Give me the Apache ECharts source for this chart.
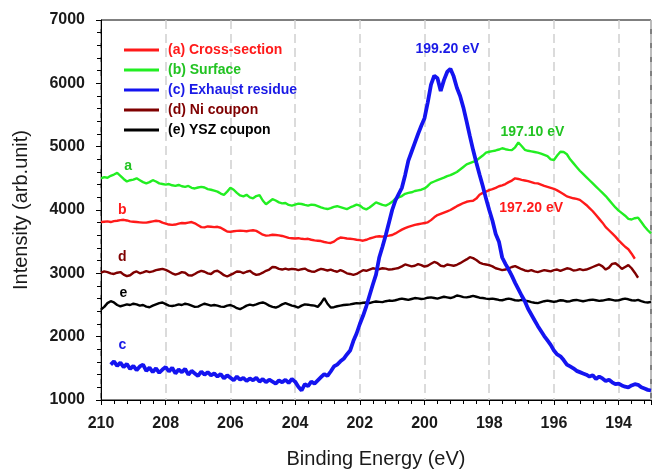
<!DOCTYPE html>
<html>
<head>
<meta charset="utf-8">
<script src="https://cdn.jsdelivr.net/npm/echarts@6/dist/echarts.min.js"></script>
<style>
  html, body { margin: 0; padding: 0; background: #fff; }
  #chart { width: 652px; height: 474px; }
</style>
</head>
<body>
<div id="chart"></div>
<script>
// Binding energy grid (eV), 0.1 eV step, high to low
const energy = [
  210.0,209.9,209.8,209.7,209.6,209.5,209.4,209.3,209.2,209.1,
  209.0,208.9,208.8,208.7,208.6,208.5,208.4,208.3,208.2,208.1,
  208.0,207.9,207.8,207.7,207.6,207.5,207.4,207.3,207.2,207.1,
  207.0,206.9,206.8,206.7,206.6,206.5,206.4,206.3,206.2,206.1,
  206.0,205.9,205.8,205.7,205.6,205.5,205.4,205.3,205.2,205.1,
  205.0,204.9,204.8,204.7,204.6,204.5,204.4,204.3,204.2,204.1,
  204.0,203.9,203.8,203.7,203.6,203.5,203.4,203.3,203.2,203.1,
  203.0,202.9,202.8,202.7,202.6,202.5,202.4,202.3,202.2,202.1,
  202.0,201.9,201.8,201.7,201.6,201.5,201.4,201.3,201.2,201.1,
  201.0,200.9,200.8,200.7,200.6,200.5,200.4,200.3,200.2,200.1,
  200.0,199.9,199.8,199.7,199.6,199.5,199.4,199.3,199.2,199.1,
  199.0,198.9,198.8,198.7,198.6,198.5,198.4,198.3,198.2,198.1,
  198.0,197.9,197.8,197.7,197.6,197.5,197.4,197.3,197.2,197.1,
  197.0,196.9,196.8,196.7,196.6,196.5,196.4,196.3,196.2,196.1,
  196.0,195.9,195.8,195.7,195.6,195.5,195.4,195.3,195.2,195.1,
  195.0,194.9,194.8,194.7,194.6,194.5,194.4,194.3,194.2,194.1,
  194.0,193.9,193.8,193.7,193.6,193.5,193.4,193.3,193.2,193.1,
  193.0
];

// (a) Cross-section
const crossSection = [
  3810,3815,3820,3810,3825,3830,3840,3845,3835,3820,
  3815,3810,3805,3800,3800,3810,3820,3830,3825,3800,
  3785,3770,3765,3770,3785,3795,3790,3800,3810,3790,
  3760,3730,3725,3740,3735,3730,3735,3720,3690,3660,
  3655,3665,3670,3675,3670,3665,3675,3680,3670,3640,
  3610,3595,3600,3610,3605,3600,3590,3575,3560,3555,
  3550,3555,3545,3540,3545,3530,3520,3515,3510,3495,
  3485,3480,3500,3540,3565,3560,3550,3545,3540,3530,
  3525,3515,3530,3550,3565,3580,3585,3580,3590,3595,
  3605,3630,3660,3690,3715,3735,3750,3765,3775,3785,
  3795,3805,3840,3885,3920,3940,3960,3980,4000,4030,
  4060,4085,4110,4130,4140,4145,4180,4240,4270,4290,
  4315,4330,4350,4375,4390,4410,4440,4465,4500,4490,
  4475,4465,4455,4440,4425,4420,4400,4380,4365,4350,
  4335,4310,4280,4250,4215,4200,4185,4175,4160,4120,
  4080,4030,3980,3920,3860,3800,3730,3680,3630,3580,
  3520,3470,3420,3380,3310,3230,null,null,null,null,
  null
];

// (b) Surface
const surface = [
  4500,4520,4510,4540,4560,4585,4540,4490,4450,4470,
  4480,4500,4470,4440,4420,4440,4470,4450,4420,4410,
  4400,4410,4390,4380,4395,4375,4365,4380,4350,4340,
  4355,4365,4355,4330,4320,4305,4290,4260,4240,4290,
  4350,4320,4270,4230,4215,4240,4200,4185,4220,4235,
  4150,4090,4130,4170,4150,4120,4105,4110,4080,4070,
  4085,4100,4095,4080,4070,4085,4080,4060,4040,4025,
  4015,4030,4050,4060,4045,4030,4015,4040,4060,4085,
  4070,4030,4010,4040,4080,4120,4100,4080,4070,4095,
  4130,4180,4200,4220,4255,4270,4280,4300,4310,4320,
  4340,4380,4430,4450,4470,4490,4510,4535,4550,4575,
  4600,4640,4680,4720,4740,4760,4780,4820,4860,4905,
  4920,4930,4940,4955,4975,4960,4950,4945,4990,5065,
  5010,4950,4935,4925,4915,4905,4890,4870,4850,4800,
  4790,4860,4920,4915,4880,4800,4740,4680,4620,4570,
  4520,4470,4420,4370,4320,4270,4220,4160,4100,4040,
  3990,3950,3910,3860,3850,3870,3880,3810,3740,3680,
  3630
];

// (c) Exhaust residue
const exhaustResidue = [
  null,null,null,1560,1610,1540,1590,1520,1570,1490,
  1540,1470,1530,1560,1460,1510,1440,1500,1430,1480,
  1520,1450,1510,1420,1480,1440,1490,1400,1460,1420,
  1380,1450,1400,1440,1390,1420,1370,1410,1340,1390,
  1350,1310,1370,1320,1350,1300,1340,1310,1350,1290,
  1330,1280,1320,1290,1260,1310,1280,1320,1270,1330,
  1290,1210,1150,1250,1220,1290,1260,1310,1360,1410,
  1380,1450,1530,1560,1610,1650,1720,1780,1930,2050,
  2200,2330,2480,2650,2820,2980,3250,3420,3600,3800,
  4000,4150,4250,4350,4550,4780,4920,5060,5200,5330,
  5450,5700,5980,6120,6080,5880,6050,6180,6230,6110,
  5930,5800,5620,5400,5170,4950,4750,4560,4380,4180,
  4000,3830,3620,3500,3250,3150,3060,2960,2850,2750,
  2650,2560,2440,2350,2260,2170,2090,2010,1940,1870,
  1780,1720,1690,1630,1560,1530,1500,1460,1440,1420,
  1400,1370,1390,1330,1370,1340,1300,1320,1280,1250,
  1260,1230,1210,1200,1230,1250,1240,1200,1180,1160,
  1150
];

// (d) Ni coupon
const niCoupon = [
  3010,3030,3020,3000,2990,3010,3020,2980,2955,2970,
  3010,3030,3000,3015,3035,3020,3030,3050,3060,3070,
  3055,3030,3000,2980,2995,3020,3010,2970,2965,2990,
  3020,3040,3025,3000,2990,3030,3040,3010,2970,2950,
  2975,3000,3030,3025,3005,3025,3040,3000,2975,2985,
  3010,3040,3060,3100,3095,3070,3060,3075,3060,3070,
  3065,3050,3065,3075,3045,3030,3025,3050,3070,3060,
  3045,3060,3040,3025,3050,3030,3000,2990,2975,2990,
  3020,3050,3040,3060,3080,3070,3065,3080,3075,3060,
  3065,3075,3085,3110,3140,3125,3110,3120,3145,3130,
  3105,3120,3150,3180,3160,3120,3110,3140,3130,3120,
  3135,3160,3190,3220,3255,3240,3210,3170,3150,3140,
  3130,3110,3080,3065,3050,3060,3080,3100,3115,3090,
  3065,3045,3035,3050,3030,3020,3035,3050,3040,3030,
  3050,3060,3040,3060,3080,3070,3045,3050,3065,3050,
  3060,3080,3100,3120,3140,3110,3060,3090,3150,3160,
  3120,3070,3100,3130,3080,3010,2930,null,null,null,
  null
];

// (e) YSZ coupon
const yszCoupon = [
  2430,2470,2530,2560,2540,2500,2480,2495,2510,2500,
  2520,2510,2490,2500,2475,2465,2490,2510,2530,2540,
  2515,2490,2485,2495,2510,2500,2520,2510,2490,2470,
  2475,2500,2520,2505,2490,2500,2490,2475,2470,2490,
  2500,2480,2450,2435,2460,2490,2505,2495,2510,2530,
  2540,2520,2490,2470,2460,2480,2510,2530,2510,2490,
  2480,2460,2490,2510,2505,2495,2490,2470,2530,2610,
  2520,2460,2465,2480,2490,2500,2505,2510,2520,2530,
  2525,2535,2540,2530,2545,2555,2550,2545,2560,2570,
  2565,2575,2590,2600,2590,2580,2595,2610,2605,2595,
  2600,2615,2620,2610,2600,2615,2630,2620,2610,2625,
  2650,2640,2625,2620,2630,2645,2630,2615,2610,2600,
  2595,2600,2590,2580,2575,2590,2600,2590,2575,2570,
  2580,2570,2560,2545,2535,2530,2545,2560,2570,2560,
  2550,2560,2575,2570,2555,2560,2575,2580,2570,2560,
  2570,2580,2585,2575,2565,2570,2580,2590,2580,2570,
  2575,2590,2600,2590,2575,2570,2580,2560,2545,2540,
  2550
];

const seriesNames = ['(a) Cross-section', '(b) Surface', '(c) Exhaust residue', '(d) Ni coupon', '(e) YSZ coupon'];
const seriesValues = [crossSection, surface, exhaustResidue, niCoupon, yszCoupon];
const seriesColors = ['#ff1a1a', '#22ee22', '#1414f0', '#7f0000', '#000000'];
const textColors = ['#ff1a1a', '#22c322', '#1a1ae6', '#7f0000', '#000000'];

// Curve letters placed beside the left end of each trace
const tagLetters = ['b', 'a', 'c', 'd', 'e'];
const tagEnergy = [209.34, 209.16, 209.34, 209.34, 209.31];
const tagIntensity = [3997, 4693, 1860, 3254, 2681];

// Which traces carry a peak-position label, and where the text sits relative to the peak
const peakLabelled = [true, true, true, false, false];
const peakLabelOffset = [[16, 30], [14, -10], [-3, -20], null, null];

const FONT = '"Liberation Sans", Arial, Helvetica, sans-serif';

// Energies are plotted as negative numbers so the axis runs 210 -> 193 left to right
function toPairs(values) {
  return values.map((v, i) => [-energy[i], v]);
}

function peakIndex(values) {
  let best = -1;
  values.forEach((v, i) => {
    if (v !== null && (best < 0 || v > values[best])) best = i;
  });
  return best;
}

const series = seriesNames.map((name, s) => {
  const values = seriesValues[s];
  const marks = [{
    coord: [-tagEnergy[s], tagIntensity[s]],
    label: { formatter: tagLetters[s] }
  }];
  if (peakLabelled[s]) {
    const p = peakIndex(values);
    marks.push({
      coord: [-energy[p], values[p]],
      label: { formatter: energy[p].toFixed(2) + ' eV', offset: peakLabelOffset[s] }
    });
  }
  return {
    name: name,
    type: 'line',
    data: toPairs(values),
    showSymbol: false,
    symbol: 'none',
    connectNulls: false,
    z: s === 2 ? 4 : 2,
    lineStyle: { color: seriesColors[s], width: s === 2 ? 3.8 : 2.4 },
    itemStyle: { color: seriesColors[s] },
    markPoint: {
      symbol: 'circle',
      symbolSize: 0,
      silent: true,
      animation: false,
      itemStyle: { color: 'transparent' },
      label: {
        show: true,
        position: 'inside',
        color: textColors[s],
        fontFamily: FONT,
        fontWeight: 'bold',
        fontSize: 14
      },
      data: marks
    }
  };
});

const chart = echarts.init(document.getElementById('chart'), null, { renderer: 'canvas' });

chart.setOption({
  animation: false,
  backgroundColor: '#ffffff',
  grid: {
    left: 101, right: 1, top: 20, bottom: 66,
    show: true, borderColor: '#000', borderWidth: 1, backgroundColor: 'transparent'
  },
  legend: {
    orient: 'vertical',
    left: 119,
    top: 38,
    itemWidth: 39,
    itemHeight: 3,
    itemGap: 6,
    icon: 'path://M0,0H35V3H0ZM38.99,0H39V0.01H38.99Z',
    itemStyle: { borderWidth: 0 },
    data: seriesNames.map((n, s) => ({
      name: n,
      textStyle: { color: textColors[s] }
    })),
    textStyle: { fontFamily: FONT, fontWeight: 'bold', fontSize: 14, lineHeight: 14 }
  },
  xAxis: {
    type: 'value',
    min: -210,
    max: -193,
    interval: 2,
    name: 'Binding Energy (eV)',
    nameLocation: 'middle',
    nameGap: 49,
    nameTextStyle: { fontFamily: FONT, fontSize: 20, color: '#1a1a1a' },
    axisLine: { onZero: false, lineStyle: { color: '#000', width: 1 } },
    axisTick: { length: 5, lineStyle: { color: '#000' } },
    minorTick: { show: true, splitNumber: 5, length: 4, lineStyle: { color: '#000' } },
    axisLabel: {
      formatter: v => String(-v),
      showMaxLabel: false,
      margin: 16,
      fontFamily: FONT,
      fontWeight: 'bold',
      fontSize: 16,
      color: '#1a1a1a'
    },
    splitLine: { show: true, lineStyle: { type: [9, 5], color: '#cfcfcf', width: 1.5 } }
  },
  yAxis: {
    type: 'value',
    min: 1000,
    max: 7000,
    interval: 1000,
    name: 'Intensity (arb.unit)',
    nameLocation: 'middle',
    nameGap: 70,
    nameTextStyle: { fontFamily: FONT, fontSize: 20, color: '#1a1a1a' },
    axisLine: { show: true, lineStyle: { color: '#000', width: 1 } },
    axisTick: { show: true, length: 5, lineStyle: { color: '#000' } },
    minorTick: { show: true, splitNumber: 5, length: 4, lineStyle: { color: '#000' } },
    axisLabel: {
      formatter: v => String(v),
      margin: 16,
      fontFamily: FONT,
      fontWeight: 'bold',
      fontSize: 16,
      color: '#1a1a1a'
    },
    splitLine: { show: false }
  },
  series: series
});
</script>
</body>
</html>
